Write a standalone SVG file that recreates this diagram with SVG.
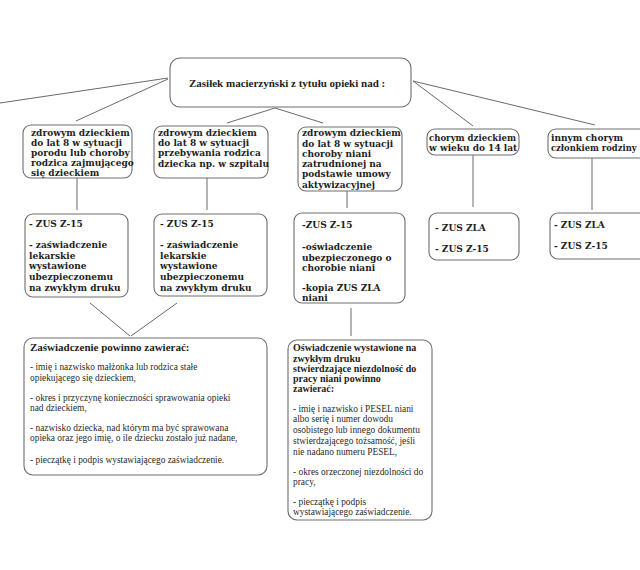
<svg xmlns="http://www.w3.org/2000/svg" width="640" height="570" viewBox="0 0 640 570">
<style>
.box{fill:#fff;stroke:#6e6e6e;stroke-width:1.1}
.ln{stroke:#6a6a6a;stroke-width:1;fill:none}
.b{font-family:"DejaVu Serif",serif;font-weight:bold;font-size:9px;fill:#1e1e1e}
.t{font-family:"Liberation Serif","Times New Roman",serif;font-weight:bold;font-size:11px;fill:#1e1e1e}
.h{font-family:"Liberation Serif","Times New Roman",serif;font-weight:bold;font-size:10px;fill:#1e1e1e}
.hk{font-family:"Liberation Serif","Times New Roman",serif;font-weight:bold;font-size:11px;fill:#1e1e1e}
.n{font-family:"Liberation Serif","Times New Roman",serif;font-size:9.4px;fill:#2a2a2a}
</style>
<rect width="640" height="570" fill="#fff"/>
<g id="connectors">
<line class="ln" x1="168" y1="78" x2="0" y2="103"/>
<line class="ln" x1="168" y1="79" x2="76" y2="121"/>
<line class="ln" x1="275" y1="108" x2="227" y2="123"/>
<line class="ln" x1="275" y1="108" x2="323" y2="123"/>
<line class="ln" x1="413" y1="81" x2="473" y2="126"/>
<line class="ln" x1="413" y1="81" x2="595" y2="125"/>
<line class="ln" x1="77" y1="178" x2="77" y2="210"/>
<line class="ln" x1="207" y1="178" x2="207" y2="210"/>
<line class="ln" x1="347" y1="191" x2="347" y2="208"/>
<line class="ln" x1="473" y1="155" x2="473" y2="207"/>
<line class="ln" x1="592" y1="158" x2="592" y2="210"/>
<line class="ln" x1="90" y1="303" x2="130" y2="336"/>
<line class="ln" x1="177" y1="303" x2="131" y2="336"/>
<line class="ln" x1="351" y1="308" x2="351" y2="336"/>
</g>
<g id="root">
<rect class="box" x="170" y="58" width="241" height="49" rx="10"/>
<text class="t" x="189" y="87">Zasiłek macierzyński z tytułu opieki nad :</text>
</g>
<g id="n1">
<rect class="box" x="23" y="125" width="109" height="53" rx="8"/>
<text class="b" x="31" y="135.5">zdrowym dzieckiem</text>
<text class="b" x="31" y="145.5">do lat 8 w sytuacji</text>
<text class="b" x="31" y="155.5">porodu lub choroby</text>
<text class="b" x="31" y="165.5">rodzica zajmującego</text>
<text class="b" x="31" y="175.5">się dzieckiem</text>
</g>
<g id="n2">
<rect class="box" x="154" y="126" width="114" height="52" rx="8"/>
<text class="b" x="158" y="135.5">zdrowym dzieckiem</text>
<text class="b" x="158" y="145.5">do lat 8 w sytuacji</text>
<text class="b" x="158" y="155.5">przebywania rodzica</text>
<text class="b" x="158" y="166.5">dziecka np. w szpitalu</text>
</g>
<g id="n3">
<rect class="box" x="298" y="127" width="104" height="64" rx="8"/>
<text class="b" x="302" y="135.5">zdrowym dzieckiem</text>
<text class="b" x="302" y="146.5">do lat 8 w sytuacji</text>
<text class="b" x="302" y="156.5">choroby niani</text>
<text class="b" x="302" y="166.5">zatrudnionej na</text>
<text class="b" x="302" y="176.5">podstawie umowy</text>
<text class="b" x="302" y="187.5">aktywizacyjnej</text>
</g>
<g id="n4">
<rect class="box" x="427" y="129" width="92" height="26" rx="8"/>
<text class="b" x="429" y="140.5" textLength="87" lengthAdjust="spacingAndGlyphs">chorym dzieckiem</text>
<text class="b" x="429" y="150.5">w wieku do 14 lat</text>
</g>
<g id="n5">
<rect class="box" x="548" y="129" width="100" height="29" rx="8"/>
<text class="b" x="551" y="140.5">innym chorym</text>
<text class="b" x="551" y="150.5" style="font-size:8.4px">członkiem rodziny</text>
</g>
<g id="d1">
<rect class="box" x="25" y="214" width="103" height="83" rx="8"/>
<text class="b" x="29" y="226.5">- ZUS Z-15</text>
<text class="b" x="29" y="247.5">- zaświadczenie</text>
<text class="b" x="29" y="258.5">lekarskie</text>
<text class="b" x="29" y="268.5">wystawione</text>
<text class="b" x="29" y="279.5">ubezpieczonemu</text>
<text class="b" x="29" y="290.5">na zwykłym druku</text>
</g>
<g id="d2">
<rect class="box" x="154" y="214" width="113" height="82" rx="8"/>
<text class="b" x="160" y="226.5">- ZUS Z-15</text>
<text class="b" x="160" y="247.5">- zaświadczenie</text>
<text class="b" x="160" y="258.5">lekarskie</text>
<text class="b" x="160" y="268.5">wystawione</text>
<text class="b" x="160" y="279.5">ubezpieczonemu</text>
<text class="b" x="160" y="290.5">na zwykłym druku</text>
</g>
<g id="d3">
<rect class="box" x="294" y="213" width="111" height="90" rx="8"/>
<text class="b" x="302" y="227.5">-ZUS Z-15</text>
<text class="b" x="302" y="249.5">-oświadczenie</text>
<text class="b" x="302" y="260.5">ubezpieczonego o</text>
<text class="b" x="302" y="270.5">chorobie niani</text>
<text class="b" x="302" y="290.5">-kopia ZUS ZLA</text>
<text class="b" x="302" y="300.5">niani</text>
</g>
<g id="d4">
<rect class="box" x="429" y="213" width="90" height="47" rx="8"/>
<text class="b" x="435" y="230.5">- ZUS ZLA</text>
<text class="b" x="435" y="251.5">- ZUS Z-15</text>
</g>
<g id="d5">
<rect class="box" x="550" y="213" width="98" height="46" rx="8"/>
<text class="b" x="554" y="227.5">- ZUS ZLA</text>
<text class="b" x="554" y="248.5">- ZUS Z-15</text>
</g>
<g id="k1">
<rect class="box" x="24" y="338" width="243" height="137" rx="9"/>
<text class="hk" x="30" y="351">Zaświadczenie powinno zawierać:</text>
<text class="n" x="30" y="370">- imię i nazwisko małżonka lub rodzica stałe</text>
<text class="n" x="30" y="381">opiekującego się dzieckiem,</text>
<text class="n" x="30" y="401">- okres i przyczynę konieczności sprawowania opieki</text>
<text class="n" x="30" y="411">nad dzieckiem,</text>
<text class="n" x="30" y="431">- nazwisko dziecka, nad którym ma być sprawowana</text>
<text class="n" x="30" y="441">opieka oraz jego imię, o ile dziecku zostało już nadane,</text>
<text class="n" x="30" y="463">- pieczątkę i podpis wystawiającego zaświadczenie.</text>
</g>
<g id="k2">
<rect class="box" x="288" y="340" width="144" height="180" rx="9"/>
<text class="h" x="293" y="351">Oświadczenie wystawione na</text>
<text class="h" x="293" y="362">zwykłym druku</text>
<text class="h" x="293" y="372">stwierdzające niezdolność do</text>
<text class="h" x="293" y="382">pracy niani powinno</text>
<text class="h" x="293" y="392">zawierać:</text>
<text class="n" x="293" y="412">- imię i nazwisko i PESEL niani</text>
<text class="n" x="293" y="422">albo serię i numer dowodu</text>
<text class="n" x="293" y="433">osobistego lub innego dokumentu</text>
<text class="n" x="293" y="444">stwierdzającego tożsamość, jeśli</text>
<text class="n" x="293" y="455">nie nadano numeru PESEL,</text>
<text class="n" x="293" y="475">- okres orzeczonej niezdolności do</text>
<text class="n" x="293" y="485">pracy,</text>
<text class="n" x="293" y="505">- pieczątkę i podpis</text>
<text class="n" x="293" y="515">wystawiającego zaświadczenie.</text>
</g>
</svg>
